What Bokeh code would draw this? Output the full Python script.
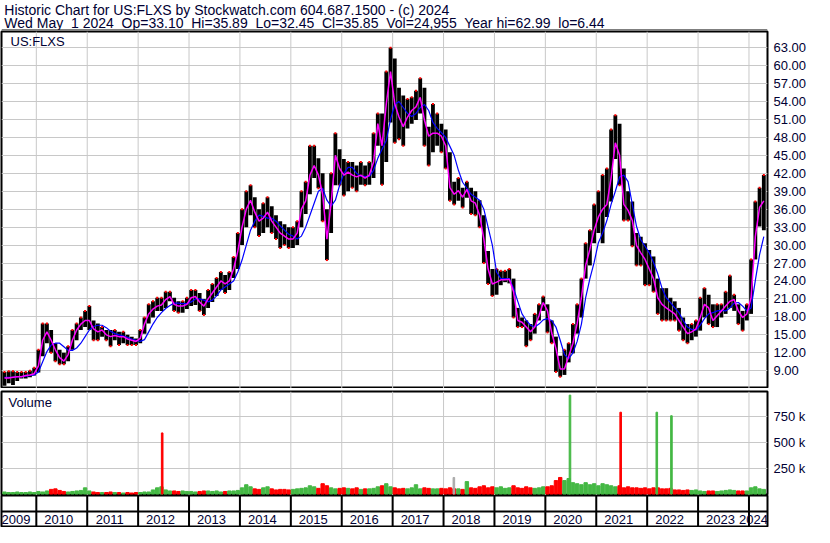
import pandas as pd
from bokeh.plotting import figure
from bokeh.layouts import column
from bokeh.models import (Range1d, FixedTicker, Label, ColumnDataSource,
                          NumeralTickFormatter)
from bokeh.core.properties import value
from bokeh.embed import file_html
from bokeh.resources import INLINE

# ---------------- data ----------------
title_line1 = "Historic Chart for US:FLXS by Stockwatch.com 604.687.1500 - (c) 2024"
title_line2 = "Wed May  1 2024  Op=33.10  Hi=35.89  Lo=32.45  Cl=35.85  Vol=24,955  Year hi=62.99  lo=6.44"
symbol = "US:FLXS"
volume_title = "Volume"

first_month = "2009-05"   # monthly bars from May 2009 to Apr 2024

high = [8.8, 8.9, 8.9, 8.8, 8.8, 8.8, 9.0, 9.5,
        12.5, 16.9, 16.9, 15.8, 13.6, 12.5, 12.0, 13.1, 15.8, 16.9, 17.9, 19.0,
        19.8, 17.4, 16.9, 16.3, 15.8, 15.8, 15.8, 15.5, 15.5, 15.0, 14.7, 14.4,
        15.8, 17.9, 20.1, 20.6, 21.2, 21.2, 22.2, 22.2, 21.2, 20.6, 20.6, 21.2,
        22.5, 22.5, 22.0, 21.0, 22.5, 23.5, 24.5, 25.5, 25.0, 25.5, 28.0, 32.0,
        36.0, 39.0, 40.0, 38.0, 36.0, 37.0, 38.0, 36.5, 35.0, 34.0, 33.5, 33.0,
        33.0, 34.0, 39.0, 40.6, 46.6, 46.6, 44.5, 42.0, 36.0, 42.0, 48.7, 46.0,
        44.4, 43.9, 43.9, 43.3, 43.9, 43.3, 43.9, 48.7, 52.0, 52.0, 59.0, 63.0,
        61.2, 56.3, 55.0, 54.4, 54.7, 55.8, 57.9, 56.3, 49.8, 53.6, 52.0, 50.3,
        49.3, 45.5, 40.6, 41.2, 39.6, 40.6, 39.6, 39.0, 37.5, 35.0, 29.0, 26.0,
        26.0, 25.7, 25.7, 26.0, 24.4, 19.5, 17.9, 17.4, 16.8, 18.5, 20.1, 21.4,
        20.1, 17.4, 14.7, 11.5, 12.5, 13.6, 16.8, 20.1, 24.4, 30.3, 32.5, 36.8,
        39.0, 41.7, 42.8, 49.3, 51.7, 50.3, 42.8, 39.0, 37.3, 32.0, 31.4, 30.3,
        29.2, 28.1, 24.4, 22.8, 22.8, 21.2, 20.6, 19.5, 17.9, 16.8, 16.8, 17.4,
        21.2, 22.8, 21.7, 20.1, 20.1, 20.1, 22.2, 24.9, 21.7, 20.1, 19.0, 20.1,
        27.6, 37.3, 39.6, 41.7]

low = [6.5, 6.9, 6.6, 7.3, 7.7, 7.7, 7.9, 8.2,
       8.7, 11.4, 13.6, 12.0, 10.6, 10.1, 10.1, 10.6, 12.5, 14.1, 15.8, 16.3,
       15.8, 14.1, 14.1, 14.7, 14.1, 13.1, 14.1, 13.3, 13.6, 13.3, 13.3, 13.3,
       13.6, 15.2, 16.9, 17.9, 19.0, 19.0, 19.5, 20.6, 19.0, 18.7, 18.7, 19.3,
       19.8, 20.0, 19.0, 18.3, 19.5, 20.5, 21.5, 22.5, 22.0, 22.5, 24.5, 26.0,
       30.0, 33.0, 35.0, 33.0, 31.5, 32.0, 33.0, 32.0, 31.0, 29.5, 30.0, 29.5,
       29.5, 30.0, 33.0, 35.2, 38.5, 41.2, 39.5, 34.0, 27.5, 32.0, 40.0, 40.0,
       38.3, 39.0, 39.6, 39.0, 40.1, 40.0, 40.1, 41.2, 46.6, 40.1, 43.9, 50.5,
       47.1, 47.7, 46.6, 49.5, 50.3, 50.9, 52.0, 46.6, 43.3, 45.5, 46.6, 45.5,
       42.8, 37.4, 36.8, 37.4, 36.3, 37.9, 35.2, 35.0, 33.0, 27.0, 23.5, 21.5,
       21.7, 23.3, 23.8, 23.6, 17.9, 16.3, 16.3, 13.1, 14.1, 15.2, 17.4, 19.0,
       15.4, 13.6, 8.8, 8.0, 8.3, 10.4, 11.9, 15.2, 17.9, 24.4, 26.6, 30.3,
       32.0, 30.3, 34.7, 37.3, 44.4, 40.0, 34.1, 34.1, 29.8, 26.6, 26.6, 23.3,
       23.3, 22.2, 18.5, 17.4, 17.4, 17.4, 17.4, 15.7, 14.1, 13.6, 14.1, 14.7,
       15.7, 17.9, 16.8, 16.3, 16.3, 17.9, 18.5, 19.5, 19.0, 16.8, 15.7, 17.4,
       18.5, 27.6, 33.1, 32.5]

avg_fast = [7.8, 7.8, 7.9, 8.0, 8.0, 8.2, 8.3, 8.5,
            9.8, 14.1, 15.5, 14.1, 12.5, 11.2, 10.6, 11.7, 14.1, 15.8, 16.8, 17.4,
            17.4, 16.0, 15.5, 15.8, 15.0, 14.7, 14.9, 14.7, 14.7, 14.3, 14.1, 13.9,
            14.4, 16.8, 18.5, 19.3, 19.8, 20.0, 20.9, 21.4, 20.1, 19.8, 19.8, 20.1,
            21.2, 21.4, 20.5, 19.8, 21.0, 22.0, 23.0, 24.0, 23.5, 24.0, 26.0, 29.0,
            33.0, 36.0, 37.5, 35.5, 34.0, 34.5, 35.5, 34.0, 33.0, 32.0, 31.5, 31.0,
            31.0, 32.0, 36.0, 37.4, 41.7, 43.3, 41.7, 38.5, 31.0, 37.0, 45.0, 42.8,
            41.7, 42.2, 41.7, 41.4, 41.7, 41.2, 41.7, 43.9, 50.3, 46.6, 53.6, 59.0,
            53.6, 51.4, 49.8, 51.4, 52.5, 53.1, 54.7, 50.9, 48.2, 48.7, 48.7, 48.2,
            46.6, 39.6, 38.5, 39.1, 38.0, 39.3, 37.4, 37.0, 35.0, 31.0, 26.0, 23.5,
            23.8, 24.2, 24.2, 24.3, 22.2, 17.4, 17.1, 16.3, 15.5, 16.3, 18.2, 20.4,
            19.0, 15.3, 12.7, 9.3, 9.3, 11.4, 13.6, 16.9, 21.2, 26.6, 29.3, 32.5,
            34.7, 36.0, 36.8, 41.2, 47.1, 45.0, 36.8, 35.8, 34.1, 29.9, 28.7, 27.6,
            26.0, 24.4, 21.2, 20.1, 19.5, 19.0, 18.5, 17.4, 16.3, 15.2, 15.5, 16.0,
            17.9, 20.1, 19.5, 17.4, 18.2, 19.0, 19.8, 20.6, 20.9, 19.0, 17.9, 18.5,
            21.2, 31.4, 36.3, 37.4]

avg_slow = [7.9, 7.9, 7.9, 8.0, 8.0, 8.1, 8.2, 8.3,
            8.8, 10.5, 12.2, 13.3, 13.6, 13.6, 13.0, 12.4, 12.4, 12.8, 13.6, 14.7,
            15.8, 16.4, 16.6, 16.6, 16.2, 15.6, 15.2, 15.0, 14.8, 14.6, 14.3, 14.1,
            13.9, 14.2, 15.5, 16.8, 17.9, 18.7, 19.4, 19.9, 20.3, 20.3, 20.2, 20.2,
            20.5, 21.0, 21.0, 20.8, 20.5, 20.8, 21.5, 22.5, 23.0, 23.5, 24.0, 25.5,
            27.5, 30.0, 32.5, 34.0, 35.0, 34.8, 34.5, 34.5, 34.0, 33.2, 32.5, 31.8,
            31.5, 31.0, 31.5, 33.0, 35.0, 37.0, 39.0, 39.5, 37.5, 36.5, 37.5, 40.0,
            42.0, 43.0, 43.0, 42.0, 41.5, 41.5, 41.5, 42.5, 44.5, 46.0, 47.5, 51.0,
            53.5, 54.0, 53.0, 52.0, 51.5, 52.0, 53.0, 53.5, 52.5, 50.5, 49.5, 48.8,
            48.0, 46.5, 45.0, 42.5, 40.5, 39.5, 38.5, 38.0, 37.5, 36.0, 33.0, 30.0,
            25.5, 24.4, 24.4, 24.4, 22.8, 20.6, 18.5, 17.4, 16.6, 16.3, 16.8, 17.5,
            17.7, 17.4, 16.3, 14.1, 11.7, 11.0, 12.0, 13.9, 16.8, 21.2, 24.4, 27.1,
            30.4, 32.0, 34.1, 36.8, 39.0, 41.4, 41.7, 40.6, 36.8, 33.1, 30.9, 29.8,
            28.7, 27.1, 25.2, 22.8, 21.2, 20.4, 19.5, 18.7, 17.4, 16.3, 15.9, 15.8,
            16.6, 17.7, 18.5, 18.7, 19.0, 19.1, 19.0, 19.5, 20.3, 20.4, 19.8, 19.0,
            19.5, 24.1, 28.4, 31.4]

volume_k = [20, 15, 15, 20, 15, 15, 20, 15,
            25, 20, 30, 45, 50, 35, 25, 20, 25, 30, 35, 60,
            30, 20, 15, 15, 15, 20, 15, 15, 10, 15, 10, 15,
            15, 20, 20, 40, 60, 70, 40, 30, 30, 25, 30, 25,
            25, 20, 25, 30, 30, 25, 30, 20, 25, 30, 30, 35,
            60, 90, 70, 50, 45, 60, 70, 50, 40, 45, 45, 40,
            45, 50, 55, 60, 80, 70, 55, 100, 80, 60, 50, 55,
            60, 55, 50, 60, 45, 50, 50, 55, 70, 80, 100, 70,
            60, 50, 55, 50, 60, 90, 50, 60, 55, 50, 50, 55,
            50, 60, 50, 50, 45, 120, 60, 55, 70, 80, 60, 70,
            60, 70, 55, 60, 80, 60, 55, 70, 60, 55, 60, 70,
            70, 80, 130, 160, 130, 150, 110, 100, 90, 110, 90, 100,
            80, 100, 90, 80, 70, 80, 60, 70, 60, 60, 55, 60,
            50, 60, 60, 50, 50, 55, 40, 40, 35, 40, 35, 40,
            30, 25, 30, 30, 25, 30, 35, 40, 35, 30, 30, 30,
            60, 70, 50, 45]

spike_dates = ["2012-06-22", "2018-03-16", "2020-06-26", "2021-06-25", "2022-03-11", "2022-06-24"]
spike_volume_k = [590, 160, 955, 790, 790, 756]
spike_colors = ["#ff0000", "#aaaaaa", "#44b844", "#ff0000", "#44b844", "#44b844"]

price_ticks = [9, 12, 15, 18, 21, 24, 27, 30, 33, 36, 39, 42, 45, 48, 51, 54, 57, 60, 63]
volume_ticks = [250, 500, 750]
volume_tick_labels = ["250 k", "500 k", "750 k"]
years = [2009, 2010, 2011, 2012, 2013, 2014, 2015, 2016, 2017, 2018, 2019, 2020, 2021, 2022, 2023, 2024]

# ---------------- helpers ----------------
FONT = "Liberation Sans"
TXT = "#000033"
GRID = "#c8c8c8"
UP = "#44b844"
DOWN = "#ff0000"

T0, T1 = 2009.316, 2024.364      # left edge / right border of the time axis (fractional years)
W = 814
PLOT_W = 766
AXIS_W = W - 1 - PLOT_W
YPP = (T1 - T0) / PLOT_W          # years per pixel

def frac_year(d):
    d = pd.Timestamp(d)
    start = pd.Timestamp(year=d.year, month=1, day=1)
    ndays = 366 if d.is_leap_year else 365
    return d.year + (d - start).days / ndays

def shown(s):
    # keep runs of spaces visible in SVG text
    return s.replace("  ", "\u00a0 ")

months = pd.period_range(first_month, periods=len(high), freq="M")
m_start = [p.year + (p.month - 1) / 12 for p in months]
m_mid = [s + 1 / 24 for s in m_start]
up = [True] + [avg_fast[i] >= avg_fast[i - 1] for i in range(1, len(avg_fast))]
vol_colors = [UP if u else DOWN for u in up]
spike_t = [frac_year(d) for d in spike_dates]
boundaries = [float(y) for y in years[1:]]

P_LO, P_HI = 6.03, 65.7
V_LO, V_HI = -14, 990

def base_fig(**kw):
    f = figure(output_backend="svg", toolbar_location=None, x_axis_location=None,
               title=None, **kw)
    f.background_fill_color = "white"
    f.border_fill_color = "white"
    f.grid.visible = False
    return f

def style_right_axis(ax):
    ax.axis_line_color = None
    ax.major_tick_line_color = None
    ax.minor_tick_line_color = None
    ax.major_tick_out = 0
    ax.major_tick_in = 0
    ax.minor_tick_out = 0
    ax.major_label_standoff = 6
    ax.major_label_text_font = FONT
    ax.major_label_text_font_size = "13px"
    ax.major_label_text_color = TXT

# ---------------- title strip ----------------
pt = base_fig(width=W, height=30, y_axis_location=None,
              x_range=Range1d(0, W), y_range=Range1d(0, 30),
              min_border_left=0, min_border_right=0, min_border_top=0, min_border_bottom=0)
pt.outline_line_color = None
pt.text(x=[3, 3], y=[21, 8], text=[shown(title_line1), shown(title_line2)],
        text_align="left", text_baseline="middle",
        text_font=value(FONT), text_font_size=value("14px"), text_color=TXT)
pt.quad(left=0, right=W, bottom=0, top=1, fill_color="black", line_color=None)

# ---------------- price panel ----------------
price_src = ColumnDataSource(dict(mid=m_mid, high=high, low=low, fast=avg_fast, slow=avg_slow))

pp = base_fig(width=W, height=358, y_axis_location="right",
              x_range=Range1d(T0, T1), y_range=Range1d(P_LO, P_HI),
              min_border_left=1, min_border_right=AXIS_W, min_border_top=1, min_border_bottom=0)
pp.outline_line_color = "black"
pp.outline_line_width = 2
pp.ygrid.visible = True
pp.ygrid.ticker = FixedTicker(ticks=price_ticks)
pp.ygrid.grid_line_color = GRID
pax = pp.yaxis[0]
pax.ticker = FixedTicker(ticks=price_ticks)
pax.formatter = NumeralTickFormatter(format="0.00")
style_right_axis(pax)

pp.segment(x0=boundaries, x1=boundaries, y0=P_LO, y1=P_HI, line_color=GRID, line_width=1)

pp.vbar(x="mid", width=0.9 / 12, bottom="low", top="high", source=price_src,
        fill_color="black", line_color=None)
red_y = [lo if not u else hi for lo, hi, u in zip(low, high, up)]
pp.scatter(x=m_mid, y=red_y, marker="square", size=2, fill_color="#ff0000", line_color=None)
pp.line(x="mid", y="slow", source=price_src, line_color="#0000ff", line_width=1.2)
pp.line(x="mid", y="fast", source=price_src, line_color="#ff00ff", line_width=1.5)

pp.add_layout(Label(x=T0, y=P_HI, x_offset=9, y_offset=-10, text=symbol,
                    text_font=FONT, text_font_size="13px", text_color=TXT,
                    text_baseline="middle", text_align="left"))

# ---------------- separator line (runs under the axis labels too) ----------------
sep = base_fig(width=W, height=1, y_axis_location=None,
               x_range=Range1d(0, W), y_range=Range1d(0, 1),
               min_border_left=0, min_border_right=0, min_border_top=0, min_border_bottom=0)
sep.outline_line_color = None
sep.background_fill_color = "black"
sep.border_fill_color = "black"

# ---------------- volume panel ----------------
pv = base_fig(width=W, height=106, y_axis_location="right",
              x_range=Range1d(T0, T1), y_range=Range1d(V_LO, V_HI),
              min_border_left=1, min_border_right=AXIS_W, min_border_top=2, min_border_bottom=0)
pv.outline_line_color = "black"
pv.outline_line_width = 2
pv.ygrid.visible = True
pv.ygrid.ticker = FixedTicker(ticks=volume_ticks)
pv.ygrid.grid_line_color = GRID
vax = pv.yaxis[0]
vax.ticker = FixedTicker(ticks=volume_ticks)
vax.major_label_overrides = {t: l for t, l in zip(volume_ticks, volume_tick_labels)}
style_right_axis(vax)

pv.segment(x0=boundaries, x1=boundaries, y0=V_LO, y1=V_HI, line_color=GRID, line_width=1)
pv.vbar(x=m_mid, top=volume_k, bottom=0, width=0.8 / 12, color=vol_colors)
pv.vbar(x=spike_t, top=spike_volume_k, bottom=0, width=1.6 * YPP, color=spike_colors)
pv.add_layout(Label(x=T0, y=V_HI, x_offset=7, y_offset=-11, text=volume_title,
                    text_font=FONT, text_font_size="13px", text_color=TXT,
                    text_baseline="middle", text_align="left"))

# ---------------- year strip ----------------
ps = base_fig(width=W, height=32, y_axis_location=None,
              x_range=Range1d(T0, T1), y_range=Range1d(0, 2),
              min_border_left=1, min_border_right=AXIS_W, min_border_top=0, min_border_bottom=0)
ps.outline_line_color = "black"
ps.outline_line_width = 2
ps.segment(x0=boundaries, x1=boundaries, y0=0, y1=2, line_color="black", line_width=2)
ps.segment(x0=T0, x1=T1, y0=1, y1=1, line_color="black", line_width=2)

edges = [T0] + boundaries + [T1]
half_label = 14.0 * YPP
centers = [min(max((a + b) / 2 - 3 * YPP, T0 + half_label), T1 - half_label)
           for a, b in zip(edges[:-1], edges[1:])]
ps.text(x=centers, y=[0.5] * len(years), text=[str(y) for y in years],
        text_align="center", text_baseline="middle",
        text_font=value(FONT), text_font_size=value("13px"), text_color=TXT)

layout = column(pt, pp, sep, pv, ps, spacing=0)
open("out.html", "w").write(file_html(layout, INLINE))
